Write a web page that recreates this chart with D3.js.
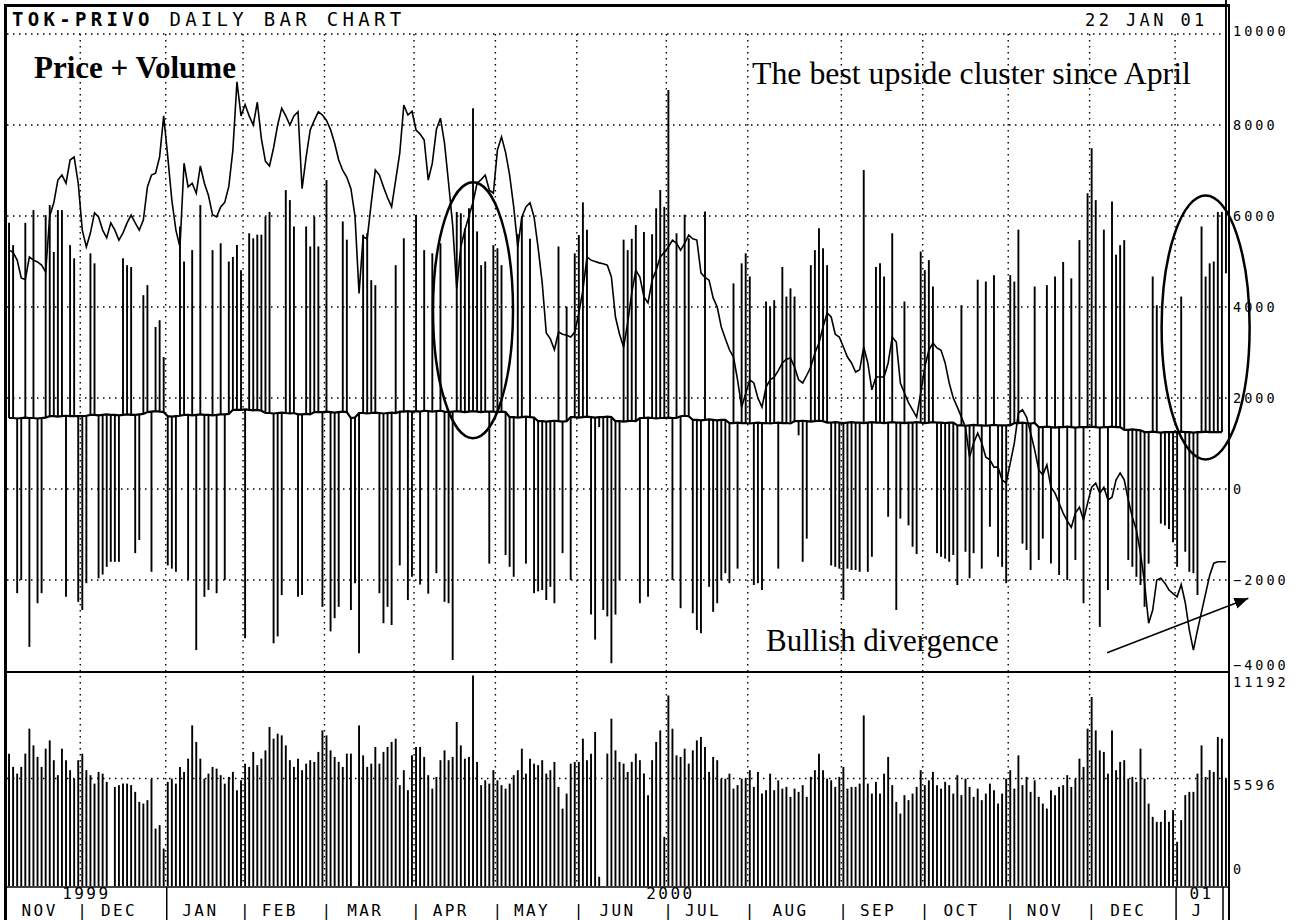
<!DOCTYPE html>
<html>
<head>
<meta charset="utf-8">
<script src="https://cdnjs.cloudflare.com/ajax/libs/d3/7.8.5/d3.min.js"></script>
<style>
body{margin:0;background:#fff;}
svg{display:block;}
.mono{font-family:"DejaVu Sans Mono","Liberation Mono",monospace;}
.serif{font-family:"Liberation Serif","Times New Roman",serif;}
</style>
</head>
<body>
<svg width="1308" height="920"></svg>
<script>
// months shown on the date strip and trading days in each
var monthLabels=["NOV","DEC","JAN","FEB","MAR","APR","MAY","JUN","JUL","AUG","SEP","OCT","NOV","DEC","J"];
var monthDays=[18,21,19,20,22,20,20,22,20,23,20,21,20,21,13];
var years=[{label:"1999",months:2},{label:"2000",months:12},{label:"01",months:1}];

var priceTicks=[10000,8000,6000,4000,2000,0,-2000,-4000];
var volTicks=[0,5596,11192];

// daily price + volume bar (end value of each bar, starts on the base line)
var osc=[
 5850,5360,-2290,-2000,5850,-3470,6130,-2510,-2290,6020,6240,5210,6130,6130,-2370,5360,5070,-2480,
 -2660,-2070,5180,4960,-1960,-1880,-1710,-1600,-1600,-1600,5070,4920,4880,-1410,-1120,4260,4480,-1820,3560,3710,2900,
 -1680,-1750,-1820,5770,5000,-2000,5250,-3540,6240,-2370,-2220,5250,-2290,5400,-2000,5000,5100,5360,4810,
 -3280,5620,5510,5590,5590,5990,6090,-3390,-3240,-2330,6570,6350,5770,-2370,-2330,5770,5330,5990,5330,-2590,
 6790,-3130,-2840,-2590,5880,5480,-2660,-2070,-3610,5590,5620,4590,4480,-2290,-2950,-2590,-2990,4920,-1680,5510,-2440,-1930,
 6030,-2100,5250,-2300,5180,-1850,5400,-2480,-2510,-3760,6090,6060,5730,6170,8370,5660,4920,5000,-1640,5360,
 5290,4920,-1450,-1710,-1930,5600,5990,-1640,5500,-2290,-2250,-2220,-2440,-2150,-2510,5330,-1410,4010,-2000,5180,
 5580,6300,5700,-2760,-3310,1360,-2660,-2800,-3830,-2760,-2000,5480,5250,5500,5800,-2510,5650,-2370,5600,6170,6570,6200,
 8770,-2000,5620,-2620,6030,5510,-2730,-3100,-3170,6100,-2150,-2700,-2510,-2000,-1850,-2070,4520,-1750,4960,5180,
 4670,-2110,-2070,-2220,4120,4010,4150,-1750,4880,4230,4410,4230,1180,-1600,-1090,4920,5250,5730,5290,4920,-1680,-1710,-1750,
 -2440,-1750,-1780,-1780,-1820,7010,-1820,-1490,4880,4960,4670,-610,5620,-2660,-650,4120,-800,-1270,-1430,5220,
 4810,5030,4450,-1410,-1490,-1530,-1600,-1450,-2110,4040,-1380,-1960,-1410,4600,-1750,4560,-830,4700,-1490,-1710,-2070,
 4700,4560,5700,-1200,-1340,-1780,4450,-1560,-1090,4480,-1640,4670,-1890,4990,-2000,4630,-1560,5470,-2510,6500,
 7490,6350,-3030,5700,-2220,6320,5150,5360,5470,-1560,-1710,-1930,-2110,-2590,-1640,4670,4040,-760,-800,-880,-1170,
 -1710,4230,-1380,-1820,-1850,-2330,5770,4670,4960,5000,6090,6090,4740
];

// base line the bars hang from
var base=[
 1560,1560,1550,1560,1570,1560,1560,1550,1560,1570,1600,1600,1590,1600,1610,1600,1600,1600,
 1600,1610,1630,1630,1620,1630,1640,1630,1630,1620,1630,1640,1630,1630,1640,1650,1690,1700,1710,1700,1690,
 1600,1590,1600,1610,1630,1630,1620,1630,1640,1630,1630,1620,1630,1640,1640,1650,1740,1740,
 1740,1750,1740,1730,1740,1720,1670,1670,1660,1670,1680,1670,1660,1670,1640,1640,1650,1640,1690,1690,
 1690,1700,1690,1680,1690,1700,1690,1560,1570,1670,1670,1660,1670,1680,1670,1660,1670,1680,1670,1700,1700,1710,
 1700,1710,1700,1720,1710,1700,1710,1720,1700,1690,1700,1710,1700,1690,1700,1710,1700,1690,1700,1700,
 1700,1690,1700,1690,1580,1580,1570,1580,1590,1580,1570,1490,1490,1480,1490,1500,1490,1480,1490,1580,
 1580,1570,1580,1590,1580,1570,1580,1580,1590,1580,1490,1490,1480,1490,1500,1490,1560,1560,1570,1560,1550,1560,
 1560,1570,1560,1560,1600,1610,1600,1520,1520,1510,1520,1530,1520,1510,1520,1520,1450,1450,1460,1450,
 1450,1440,1450,1460,1450,1450,1440,1450,1460,1450,1450,1440,1490,1490,1500,1490,1480,1490,1500,1490,1460,1460,1470,
 1460,1450,1460,1470,1460,1460,1450,1460,1470,1460,1460,1450,1460,1470,1460,1460,1450,1460,1460,1470,
 1460,1450,1460,1470,1460,1460,1450,1460,1460,1400,1400,1390,1400,1410,1400,1400,1390,1400,1410,1400,1400,
 1400,1400,1450,1450,1460,1450,1440,1450,1360,1360,1370,1360,1350,1360,1360,1370,1360,1350,1360,1360,
 1360,1370,1360,1350,1360,1360,1370,1360,1360,1300,1300,1310,1300,1290,1250,1250,1260,1250,1240,1250,1250,
 1250,1250,1260,1250,1250,1240,1250,1250,1260,1250,1250,1250,1250
];

// closing price line
var price=[
 5250,5200,5030,4640,4600,5100,5030,4990,4920,4770,6000,6290,6790,6900,6720,7230,7300,6720,
 5690,5320,5630,6070,5980,5690,5520,5850,5690,5470,5630,5850,6020,5850,5690,5910,6640,6900,6940,7300,8200,
 7300,6350,5690,5320,7160,6640,6720,6500,7100,6720,6450,6030,5980,6200,6300,6650,7450,8950,8200,
 8450,8200,8000,8500,7700,7200,7100,7500,8000,8370,8200,8000,8200,8290,6600,7300,7890,8100,8290,8220,
 8100,7900,7600,7230,7000,6850,6600,6000,4300,5540,5500,6290,7010,6900,6640,6400,6200,6790,7380,8440,8220,8300,
 7890,7800,7670,6790,7160,7900,8150,7600,6720,5800,4400,5320,5690,6000,6300,6720,6800,6900,6570,6500,
 7450,7740,7400,6900,6200,5320,5980,6200,6290,5980,5300,4530,3430,3300,3060,3450,3400,3380,3340,3450,
 3870,4370,5100,5030,5000,4970,4950,4920,4660,3780,3400,3120,3650,4310,4810,4660,4220,4090,4590,4810,5100,5200,
 5320,5470,5400,5250,5400,5580,5500,5470,4750,4650,4590,4200,4000,3560,3300,3060,2900,2400,1800,2100,
 2400,2330,2000,1800,2240,2400,2460,2600,2770,2850,2880,2680,2400,2330,2500,2680,2990,3210,3560,3870,3780,3400,3340,
 3120,2900,2770,2570,2620,3120,2770,2180,2460,2460,2460,2770,3340,3230,2330,2110,1900,1740,1580,2110,
 2680,3050,3210,3100,3050,2770,2330,2000,1800,1580,1360,700,1010,1230,1010,700,640,480,480,200,130,
 570,1010,1670,1740,1580,1230,860,420,310,530,40,-90,-310,-530,-700,-840,-530,-400,-680,-310,
 40,130,-90,40,-240,-180,200,350,200,-240,-620,-900,-1410,-2070,-2950,-2660,-2000,-1960,-2070,-2220,-2300,
 -2370,-2100,-2500,-3100,-3540,-3100,-2700,-2300,-1900,-1630,-1600,-1600,-1600
];

// daily volume
var volume=[
 6890,6200,5850,6200,6890,8190,7320,6720,6200,7150,7580,6550,5770,7150,6550,6030,5590,6550,
 6890,6030,5770,5330,5940,5850,5420,0,5160,5250,5330,5330,5250,4900,4380,4290,4470,5590,2990,3170,1950,
 5420,5590,5330,6200,5940,6630,8360,7500,6630,5590,5850,6200,6110,5770,5330,5680,5940,4990,5500,
 6370,6200,6980,6290,6630,7060,8280,7670,7930,7840,7320,6550,6200,6630,6030,6370,6550,6460,6980,8100,
 7840,7060,6720,6460,6200,6890,6890,0,8360,6800,6200,6370,7240,6370,6980,7240,7500,7670,5250,6030,4990,6800,
 7240,7240,6720,5770,5070,5680,6550,7060,6550,6720,8540,7320,6630,6720,10960,6460,5250,5500,5330,6030,
 5500,5250,5070,5330,5770,6030,7150,5850,6630,6370,6290,6550,5850,6030,6460,5160,4030,4810,6370,6460,
 6460,7670,6550,6890,8020,480,0,6890,8710,7060,6460,6370,5940,6460,6890,6550,5850,4730,6550,7500,8100,2560,
 9920,8190,6800,6720,7150,6370,7060,7580,7760,7240,5940,6720,6550,5590,5590,5850,5070,5250,5590,5590,
 6030,5160,5940,4810,4990,5850,4990,5500,5070,5160,4640,5070,4900,5250,4640,5680,6030,6890,6030,5590,5500,5160,5680,
 6200,5070,5160,5160,5330,8880,5330,4810,5420,4810,5850,6720,5250,4380,3770,4730,4470,4810,5160,6030,
 5250,5500,5940,5250,5070,5420,5250,4810,5770,4730,5590,5160,4640,5070,4470,4810,5330,4990,4290,4810,5590,
 6030,5070,6800,5250,5680,4900,5500,4640,4290,4030,4990,4730,5160,5250,5770,5160,5590,6630,6200,8190,
 9840,8100,7060,6980,5850,8100,6030,6460,6550,5590,5680,5420,7150,5590,4290,3600,3340,3340,3950,3340,3950,
 2300,3430,4730,4900,4900,5850,7320,5680,6030,5940,7760,7670,5590
];

var svg=d3.select('svg');
var n=osc.length;

var x=d3.scaleLinear().domain([0,n]).range([7,1228]);
var yP=d3.scaleLinear().domain([-4000,10000]).range([671,34]);
var yV=d3.scaleLinear().domain([0,11192]).range([886,671]);

// month start indices
var starts=[],acc=0;
monthDays.forEach(function(d){ starts.push(acc); acc+=d; });
var bounds=starts.slice(1);

var dots="1.5,4.5";

// horizontal grid
svg.append("g").selectAll("line")
  .data(priceTicks.filter(function(d){return d>-4000;}))
  .enter().append("line")
  .attr("x1",7).attr("x2",1229)
  .attr("y1",function(d){return yP(d);}).attr("y2",function(d){return yP(d);})
  .attr("stroke","#000").attr("stroke-width",1.4).attr("stroke-dasharray",dots);

svg.append("line")
  .attr("x1",7).attr("x2",1229)
  .attr("y1",yV(5596)).attr("y2",yV(5596))
  .attr("stroke","#000").attr("stroke-width",1.4).attr("stroke-dasharray",dots);

// vertical grid at month starts
svg.append("g").selectAll("line")
  .data(bounds)
  .enter().append("line")
  .attr("x1",function(d){return x(d);}).attr("x2",function(d){return x(d);})
  .attr("y1",yP(10000)).attr("y2",yV(0))
  .attr("stroke","#000").attr("stroke-width",1.4).attr("stroke-dasharray",dots);

// price + volume bars
svg.append("g").selectAll("line")
  .data(osc)
  .enter().append("line")
  .attr("x1",function(d,i){return x(i+0.5);}).attr("x2",function(d,i){return x(i+0.5);})
  .attr("y1",function(d,i){return yP(base[i]);})
  .attr("y2",function(d){return yP(d);})
  .attr("stroke","#000").attr("stroke-width",1.9);

// base line
svg.append("path")
  .datum(base)
  .attr("d",d3.line().x(function(d,i){return x(i+0.5);}).y(function(d){return yP(d);}))
  .attr("fill","none").attr("stroke","#000").attr("stroke-width",2.2);

// price line
svg.append("path")
  .datum(price)
  .attr("d",d3.line().x(function(d,i){return x(i+0.5);}).y(function(d){return yP(d);}))
  .attr("fill","none").attr("stroke","#000").attr("stroke-width",1.6);

// volume bars
svg.append("g").selectAll("line")
  .data(volume)
  .enter().append("line")
  .attr("x1",function(d,i){return x(i+0.5);}).attr("x2",function(d,i){return x(i+0.5);})
  .attr("y1",yV(0)).attr("y2",function(d){return yV(d);})
  .attr("stroke","#000").attr("stroke-width",function(d){return d>0?1.9:0;});

// frame and panel separators
svg.append("line").attr("x1",4).attr("x2",1230).attr("y1",5.5).attr("y2",5.5).attr("stroke","#000").attr("stroke-width",3);
svg.append("line").attr("x1",5.5).attr("x2",5.5).attr("y1",4).attr("y2",920).attr("stroke","#000").attr("stroke-width",3);
svg.append("line").attr("x1",1229).attr("x2",1229).attr("y1",4).attr("y2",920).attr("stroke","#000").attr("stroke-width",2);
svg.append("line").attr("x1",7).attr("x2",1229).attr("y1",yP(-4000)+1).attr("y2",yP(-4000)+1).attr("stroke","#000").attr("stroke-width",2);
svg.append("line").attr("x1",7).attr("x2",1229).attr("y1",yV(0)+1).attr("y2",yV(0)+1).attr("stroke","#000").attr("stroke-width",1.5);
svg.append("line").attr("x1",1223).attr("x2",1223).attr("y1",yV(0)+1).attr("y2",920).attr("stroke","#000").attr("stroke-width",1.5);

// right axes
var axP=svg.append("g").attr("transform","translate(1229,0)")
  .call(d3.axisRight(yP).tickValues(priceTicks).tickSize(0).tickPadding(4).tickFormat(d3.format("d")));
axP.select(".domain").remove();
axP.selectAll("text").attr("class","mono").style("font-size","13.5px").style("letter-spacing","3px")
  .attr("dy",function(d){ return d===10000?"0.1em":(d===-4000?"-0.1em":"0.35em"); });

var axV=svg.append("g").attr("transform","translate(1229,0)")
  .call(d3.axisRight(yV).tickValues(volTicks).tickSize(0).tickPadding(4).tickFormat(d3.format("d")));
axV.select(".domain").remove();
axV.selectAll("text").attr("class","mono").style("font-size","13.5px").style("letter-spacing","3px")
  .attr("dy",function(d){ return d===11192?"1.15em":(d===0?"-0.9em":"0.85em"); });

// title
var title=svg.append("text").attr("class","mono").attr("x",12).attr("y",26)
  .style("font-size","19px").style("letter-spacing","4.3px");
title.append("tspan").attr("font-weight","bold").text("TOK-PRIVO");
title.append("tspan").text(" DAILY BAR CHART");
svg.append("text").attr("class","mono").attr("x",1085).attr("y",26)
  .style("font-size","17px").style("letter-spacing","3.4px").text("22 JAN 01");

// date strip
var strip=svg.append("g").attr("class","mono").style("font-size","16px").style("letter-spacing","2.4px");
strip.selectAll(".m").data(monthLabels).enter().append("text")
  .attr("x",function(d,i){ return (x(starts[i])+x(starts[i]+monthDays[i]))/2-4; })
  .attr("y",916).attr("text-anchor","middle").text(function(d){return d;});
var yearStart=[0,39,287];
strip.selectAll(".sep").data(bounds.filter(function(b){return yearStart.indexOf(b)<0;})).enter().append("text")
  .attr("x",function(d){return x(d)+3;}).attr("y",916).attr("text-anchor","middle").text("|");
var yi=0;
years.forEach(function(yr){
  var s=starts[yi], e=starts[yi+yr.months-1]+monthDays[yi+yr.months-1];
  strip.append("text").attr("x",(x(s)+x(e))/2).attr("y",899).attr("text-anchor","middle").text(yr.label);
  yi+=yr.months;
});
svg.selectAll(".ysep").data([39,287]).enter().append("line")
  .attr("x1",function(d){return x(d)+1;}).attr("x2",function(d){return x(d)+1;})
  .attr("y1",yV(0)+1).attr("y2",920).attr("stroke","#000").attr("stroke-width",1.5);

// annotations
svg.append("text").attr("class","serif").attr("x",34).attr("y",78)
  .style("font-size","31px").style("font-weight","bold").text("Price + Volume");
svg.append("text").attr("class","serif").attr("x",752).attr("y",84)
  .style("font-size","31.8px").text("The best upside cluster since April");
svg.append("text").attr("class","serif").attr("x",766).attr("y",651)
  .style("font-size","31px").text("Bullish divergence");

svg.append("ellipse").attr("cx",x(114.5)).attr("cy",yP(3930)).attr("rx",40).attr("ry",128)
  .attr("fill","none").attr("stroke","#000").attr("stroke-width",2.5);
svg.append("ellipse").attr("cx",x(294.5)).attr("cy",yP(3550)).attr("rx",44).attr("ry",132)
  .attr("fill","none").attr("stroke","#000").attr("stroke-width",2.5);

svg.append("defs").append("marker").attr("id","ah")
  .attr("viewBox","0 0 10 10").attr("refX",10).attr("refY",5)
  .attr("markerWidth",14).attr("markerHeight",14).attr("markerUnits","userSpaceOnUse").attr("orient","auto")
  .append("path").attr("d","M0,1 L10,5 L0,9 Z").attr("fill","#000");
svg.append("line").attr("x1",x(270.3)).attr("y1",yP(-3600))
  .attr("x2",x(305)).attr("y2",yP(-2400))
  .attr("stroke","#000").attr("stroke-width",1.5).attr("marker-end","url(#ah)");
</script>
</body>
</html>
